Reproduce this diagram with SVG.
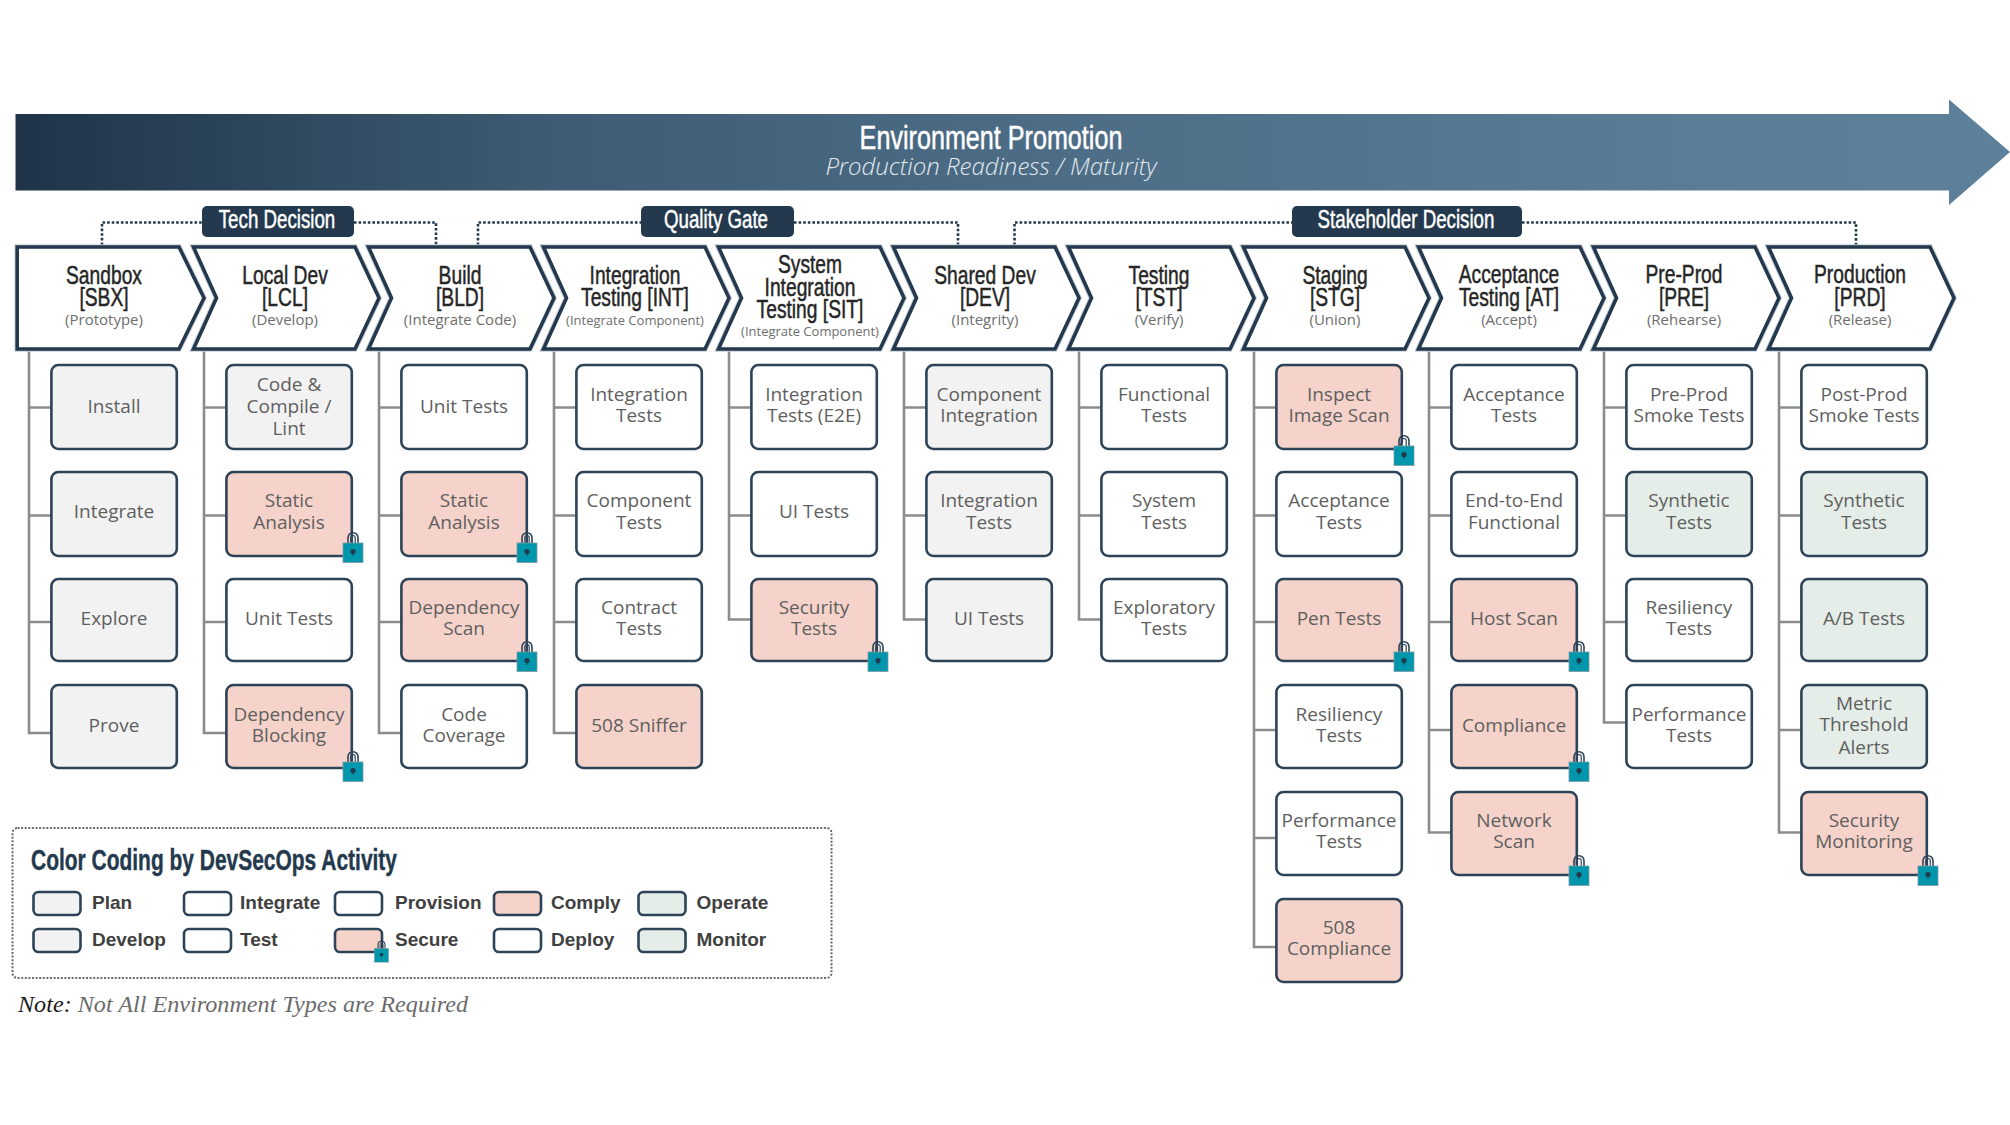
<svg xmlns="http://www.w3.org/2000/svg" xmlns:xlink="http://www.w3.org/1999/xlink" width="2010" height="1125" viewBox="0 0 2010 1125">
<style>
text{font-family:"Open Sans","Liberation Sans",sans-serif}
.n{font-size:19px;fill:#5f5f5f;text-anchor:middle}
.h{font-family:"Liberation Sans Narrow","Liberation Sans",sans-serif;font-size:26px;fill:#262626;text-anchor:middle;stroke:#262626;stroke-width:.5}
.s{font-size:15px;fill:#6e6e6e;text-anchor:middle}
.b{font-family:"Liberation Sans Narrow","Liberation Sans",sans-serif;font-size:26px;fill:#fff;text-anchor:middle;stroke:#fff;stroke-width:.5}
.l{font-family:"Liberation Sans",Arial,sans-serif;font-size:19px;font-weight:700;fill:#404040}
.c{fill:#fff;stroke:#24394d;stroke-width:3.6;stroke-linejoin:miter}
.ch{fill:none;stroke:#c7cfd6;stroke-width:5.6}
.r{stroke:#2d4358;stroke-width:2.6;fill:#fff}
.g{fill:#f2f2f2}.p{fill:#f5d3ca}.m{fill:#e5ede8}
.sp{fill:none;stroke:#8c8c8c;stroke-width:2.6}
.d{fill:none;stroke:#24394d;stroke-width:2.6;stroke-dasharray:2.6 2}
</style>
<defs>
<linearGradient id="ar" x1="0" x2="1" y1="0" y2="0"><stop offset="0" stop-color="#1f3448"/><stop offset=".27" stop-color="#3e5c74"/><stop offset=".5" stop-color="#4c6c85"/><stop offset=".85" stop-color="#5b7d98"/><stop offset="1" stop-color="#5d809b"/></linearGradient>
<g id="lock">
<path d="M-5 -10V-15.300a5 5 0 0 1 10 0V-10" fill="none" stroke="#2d4358" stroke-width="1.6"/>
<path d="M-2.200 -10V-15.300a2.200 2.200 0 0 1 4.400 0V-10" fill="none" stroke="#2d4358" stroke-width="1.200"/>
<rect x="-10" y="-10" width="20" height="19.500" fill="#0097ad" stroke="#7f9aa3" stroke-width=".8"/>
<circle cx="0" cy="-1.500" r="2.600" fill="#22384d"/><path d="M-1 -1L0 4L1 -1Z" fill="#22384d"/>
</g>
<g id="chev"><path class="ch" d="M193.500 247H355L379 298L355 349H193.500L216.500 298Z"/><path class="c" d="M193.500 247H355L379 298L355 349H193.500L216.500 298Z"/></g>
</defs>
<g id="promotion-arrow">
<path d="M15.500 114H1949V99.500L2010 152L1949 205V190.500H15.500Z" fill="url(#ar)"/>
<text transform="translate(991,149) scale(.74,1)" text-anchor="middle" font-size="34" fill="#fff" stroke="#fff" stroke-width=".5" style="font-family:'Liberation Sans Narrow','Liberation Sans',sans-serif">Environment Promotion</text>
<text x="991" y="175" text-anchor="middle" font-size="24" font-weight="300" font-style="italic" fill="#e3e9ee">Production Readiness / Maturity</text>
</g>
<g id="connectors">
<path class="d" d="M102 245V222.500H202M354 222.500H436V245"/>
<path class="d" d="M478 245V222.500H641M794 222.500H958V245"/>
<path class="d" d="M1014.500 245V222.500H1292M1522 222.500H1856V245"/>
<path class="sp" d="M29 350V733H51M29 407.500H51M29 515.500H51M29 622H51"/>
<path class="sp" d="M204 350V733H226M204 407.500H226M204 515.500H226M204 622H226"/>
<path class="sp" d="M379 350V733H401M379 407.500H401M379 515.500H401M379 622H401"/>
<path class="sp" d="M554 350V733H576M554 407.500H576M554 515.500H576M554 622H576"/>
<path class="sp" d="M729 350V619.500H751M729 407.500H751M729 515.500H751"/>
<path class="sp" d="M904 350V619.500H926M904 407.500H926M904 515.500H926"/>
<path class="sp" d="M1079 350V619.500H1101M1079 407.500H1101M1079 515.500H1101"/>
<path class="sp" d="M1254 350V947H1276M1254 407.500H1276M1254 515.500H1276M1254 622H1276M1254 730H1276M1254 838H1276"/>
<path class="sp" d="M1429 350V832.500H1451M1429 407.500H1451M1429 515.500H1451M1429 622H1451M1429 730H1451"/>
<path class="sp" d="M1604 350V722.500H1626M1604 407.500H1626M1604 515.500H1626M1604 622H1626"/>
<path class="sp" d="M1779 350V832.500H1801M1779 407.500H1801M1779 515.500H1801M1779 622H1801M1779 730H1801"/>
</g>
<g id="badge-tech"><rect x="202" y="206" width="152" height="31" rx="5" fill="#24394d"/><text class="b" transform="translate(277,228) scale(.72,1)">Tech Decision</text></g>
<g id="badge-quality"><rect x="641" y="206" width="153" height="31" rx="5" fill="#24394d"/><text class="b" transform="translate(716,228) scale(.72,1)">Quality Gate</text></g>
<g id="badge-stakeholder"><rect x="1292" y="206" width="230" height="31" rx="5" fill="#24394d"/><text class="b" transform="translate(1406,228) scale(.72,1)">Stakeholder Decision</text></g>

<g id="env-sbx"><path class="ch" d="M17.200 247H179L204 298L179 349H17.200Z"/><path class="c" d="M17.200 247H179L204 298L179 349H17.200Z"/><text class="h" transform="translate(104,284) scale(.74,1)"><tspan x="0">Sandbox</tspan><tspan x="0" dy="22">[SBX]</tspan></text><text class="s" x="104" y="325">(Prototype)</text></g>
<g id="env-lcl"><use href="#chev"/><text class="h" transform="translate(285,284) scale(.74,1)"><tspan x="0">Local Dev</tspan><tspan x="0" dy="22">[LCL]</tspan></text><text class="s" x="285" y="325">(Develop)</text></g>
<g id="env-bld"><use href="#chev" x="175"/><text class="h" transform="translate(460,284) scale(.74,1)"><tspan x="0">Build</tspan><tspan x="0" dy="22">[BLD]</tspan></text><text class="s" x="460" y="325">(Integrate Code)</text></g>
<g id="env-int"><use href="#chev" x="350"/><text class="h" transform="translate(635,284) scale(.74,1)"><tspan x="0">Integration</tspan><tspan x="0" dy="22">Testing [INT]</tspan></text><text class="s" x="635" y="325" style="font-size:13px">(Integrate Component)</text></g>
<g id="env-sit"><use href="#chev" x="525"/><text class="h" transform="translate(810,273) scale(.74,1)"><tspan x="0">System</tspan><tspan x="0" dy="23">Integration</tspan><tspan x="0" dy="22">Testing [SIT]</tspan></text><text class="s" x="810" y="336" style="font-size:13px">(Integrate Component)</text></g>
<g id="env-dev"><use href="#chev" x="700"/><text class="h" transform="translate(985,284) scale(.74,1)"><tspan x="0">Shared Dev</tspan><tspan x="0" dy="22">[DEV]</tspan></text><text class="s" x="985" y="325">(Integrity)</text></g>
<g id="env-tst"><use href="#chev" x="875"/><text class="h" transform="translate(1159,284) scale(.74,1)"><tspan x="0">Testing</tspan><tspan x="0" dy="22">[TST]</tspan></text><text class="s" x="1159" y="325">(Verify)</text></g>
<g id="env-stg"><use href="#chev" x="1050"/><text class="h" transform="translate(1335,284) scale(.74,1)"><tspan x="0">Staging</tspan><tspan x="0" dy="22">[STG]</tspan></text><text class="s" x="1335" y="325">(Union)</text></g>
<g id="env-at"><use href="#chev" x="1225"/><text class="h" transform="translate(1509,283) scale(.74,1)"><tspan x="0">Acceptance</tspan><tspan x="0" dy="23">Testing [AT]</tspan></text><text class="s" x="1509" y="325">(Accept)</text></g>
<g id="env-pre"><use href="#chev" x="1400"/><text class="h" transform="translate(1684,283) scale(.74,1)"><tspan x="0">Pre-Prod</tspan><tspan x="0" dy="23">[PRE]</tspan></text><text class="s" x="1684" y="325">(Rehearse)</text></g>
<g id="env-prd"><use href="#chev" x="1575"/><text class="h" transform="translate(1860,283) scale(.74,1)"><tspan x="0">Production</tspan><tspan x="0" dy="23">[PRD]</tspan></text><text class="s" x="1860" y="325">(Release)</text></g>

<g id="sbx-1"><rect class="r g" x="51.400" y="365" width="125.400" height="84" rx="7"/><text class="n" x="114" y="413">Install</text></g>
<g id="sbx-2"><rect class="r g" x="51.400" y="472" width="125.400" height="84" rx="7"/><text class="n" x="114" y="518">Integrate</text></g>
<g id="sbx-3"><rect class="r g" x="51.400" y="579" width="125.400" height="82" rx="7"/><text class="n" x="114" y="625">Explore</text></g>
<g id="sbx-4"><rect class="r g" x="51.400" y="685" width="125.400" height="83" rx="7"/><text class="n" x="114" y="732">Prove</text></g>

<g id="lcl-1"><rect class="r g" x="226.400" y="365" width="125.400" height="84" rx="7"/><text class="n" y="391"><tspan x="289">Code &amp;</tspan><tspan x="289" dy="22">Compile /</tspan><tspan x="289" dy="22">Lint</tspan></text></g>
<g id="lcl-2"><rect class="r p" x="226.400" y="472" width="125.400" height="84" rx="7"/><text class="n" y="507"><tspan x="289">Static</tspan><tspan x="289" dy="22">Analysis</tspan></text><use href="#lock" x="353" y="553"/></g>
<g id="lcl-3"><rect class="r" x="226.400" y="579" width="125.400" height="82" rx="7"/><text class="n" x="289" y="625">Unit Tests</text></g>
<g id="lcl-4"><rect class="r p" x="226.400" y="685" width="125.400" height="83" rx="7"/><text class="n" y="721"><tspan x="289">Dependency</tspan><tspan x="289" dy="21">Blocking</tspan></text><use href="#lock" x="353" y="772"/></g>

<g id="bld-1"><rect class="r" x="401.400" y="365" width="125.400" height="84" rx="7"/><text class="n" x="464" y="413">Unit Tests</text></g>
<g id="bld-2"><rect class="r p" x="401.400" y="472" width="125.400" height="84" rx="7"/><text class="n" y="507"><tspan x="464">Static</tspan><tspan x="464" dy="22">Analysis</tspan></text><use href="#lock" x="527" y="553"/></g>
<g id="bld-3"><rect class="r p" x="401.400" y="579" width="125.400" height="82" rx="7"/><text class="n" y="614"><tspan x="464">Dependency</tspan><tspan x="464" dy="21">Scan</tspan></text><use href="#lock" x="527" y="662"/></g>
<g id="bld-4"><rect class="r" x="401.400" y="685" width="125.400" height="83" rx="7"/><text class="n" y="721"><tspan x="464">Code</tspan><tspan x="464" dy="21">Coverage</tspan></text></g>

<g id="int-1"><rect class="r" x="576.400" y="365" width="125.400" height="84" rx="7"/><text class="n" y="401"><tspan x="639">Integration</tspan><tspan x="639" dy="21">Tests</tspan></text></g>
<g id="int-2"><rect class="r" x="576.400" y="472" width="125.400" height="84" rx="7"/><text class="n" y="507"><tspan x="639">Component</tspan><tspan x="639" dy="22">Tests</tspan></text></g>
<g id="int-3"><rect class="r" x="576.400" y="579" width="125.400" height="82" rx="7"/><text class="n" y="614"><tspan x="639">Contract</tspan><tspan x="639" dy="21">Tests</tspan></text></g>
<g id="int-4"><rect class="r p" x="576.400" y="685" width="125.400" height="83" rx="7"/><text class="n" x="639" y="732">508 Sniffer</text></g>

<g id="sit-1"><rect class="r" x="751.400" y="365" width="125.400" height="84" rx="7"/><text class="n" y="401"><tspan x="814">Integration</tspan><tspan x="814" dy="21">Tests (E2E)</tspan></text></g>
<g id="sit-2"><rect class="r" x="751.400" y="472" width="125.400" height="84" rx="7"/><text class="n" x="814" y="518">UI Tests</text></g>
<g id="sit-3"><rect class="r p" x="751.400" y="579" width="125.400" height="82" rx="7"/><text class="n" y="614"><tspan x="814">Security</tspan><tspan x="814" dy="21">Tests</tspan></text><use href="#lock" x="878" y="662"/></g>

<g id="dev-1"><rect class="r g" x="926.400" y="365" width="125.400" height="84" rx="7"/><text class="n" y="401"><tspan x="989">Component</tspan><tspan x="989" dy="21">Integration</tspan></text></g>
<g id="dev-2"><rect class="r g" x="926.400" y="472" width="125.400" height="84" rx="7"/><text class="n" y="507"><tspan x="989">Integration</tspan><tspan x="989" dy="22">Tests</tspan></text></g>
<g id="dev-3"><rect class="r g" x="926.400" y="579" width="125.400" height="82" rx="7"/><text class="n" x="989" y="625">UI Tests</text></g>

<g id="tst-1"><rect class="r" x="1101.400" y="365" width="125.400" height="84" rx="7"/><text class="n" y="401"><tspan x="1164">Functional</tspan><tspan x="1164" dy="21">Tests</tspan></text></g>
<g id="tst-2"><rect class="r" x="1101.400" y="472" width="125.400" height="84" rx="7"/><text class="n" y="507"><tspan x="1164">System</tspan><tspan x="1164" dy="22">Tests</tspan></text></g>
<g id="tst-3"><rect class="r" x="1101.400" y="579" width="125.400" height="82" rx="7"/><text class="n" y="614"><tspan x="1164">Exploratory</tspan><tspan x="1164" dy="21">Tests</tspan></text></g>

<g id="stg-1"><rect class="r p" x="1276.400" y="365" width="125.400" height="84" rx="7"/><text class="n" y="401"><tspan x="1339">Inspect</tspan><tspan x="1339" dy="21">Image Scan</tspan></text><use href="#lock" x="1404" y="456"/></g>
<g id="stg-2"><rect class="r" x="1276.400" y="472" width="125.400" height="84" rx="7"/><text class="n" y="507"><tspan x="1339">Acceptance</tspan><tspan x="1339" dy="22">Tests</tspan></text></g>
<g id="stg-3"><rect class="r p" x="1276.400" y="579" width="125.400" height="82" rx="7"/><text class="n" x="1339" y="625">Pen Tests</text><use href="#lock" x="1404" y="662"/></g>
<g id="stg-4"><rect class="r" x="1276.400" y="685" width="125.400" height="83" rx="7"/><text class="n" y="721"><tspan x="1339">Resiliency</tspan><tspan x="1339" dy="21">Tests</tspan></text></g>
<g id="stg-5"><rect class="r" x="1276.400" y="792" width="125.400" height="83" rx="7"/><text class="n" y="827"><tspan x="1339">Performance</tspan><tspan x="1339" dy="21">Tests</tspan></text></g>
<g id="stg-6"><rect class="r p" x="1276.400" y="899" width="125.400" height="83" rx="7"/><text class="n" y="934"><tspan x="1339">508</tspan><tspan x="1339" dy="21">Compliance</tspan></text></g>

<g id="at-1"><rect class="r" x="1451.400" y="365" width="125.400" height="84" rx="7"/><text class="n" y="401"><tspan x="1514">Acceptance</tspan><tspan x="1514" dy="21">Tests</tspan></text></g>
<g id="at-2"><rect class="r" x="1451.400" y="472" width="125.400" height="84" rx="7"/><text class="n" y="507"><tspan x="1514">End-to-End</tspan><tspan x="1514" dy="22">Functional</tspan></text></g>
<g id="at-3"><rect class="r p" x="1451.400" y="579" width="125.400" height="82" rx="7"/><text class="n" x="1514" y="625">Host Scan</text><use href="#lock" x="1579" y="662"/></g>
<g id="at-4"><rect class="r p" x="1451.400" y="685" width="125.400" height="83" rx="7"/><text class="n" x="1514" y="732">Compliance</text><use href="#lock" x="1579" y="772"/></g>
<g id="at-5"><rect class="r p" x="1451.400" y="792" width="125.400" height="83" rx="7"/><text class="n" y="827"><tspan x="1514">Network</tspan><tspan x="1514" dy="21">Scan</tspan></text><use href="#lock" x="1579" y="876"/></g>

<g id="pre-1"><rect class="r" x="1626.400" y="365" width="125.400" height="84" rx="7"/><text class="n" y="401"><tspan x="1689">Pre-Prod</tspan><tspan x="1689" dy="21">Smoke Tests</tspan></text></g>
<g id="pre-2"><rect class="r m" x="1626.400" y="472" width="125.400" height="84" rx="7"/><text class="n" y="507"><tspan x="1689">Synthetic</tspan><tspan x="1689" dy="22">Tests</tspan></text></g>
<g id="pre-3"><rect class="r" x="1626.400" y="579" width="125.400" height="82" rx="7"/><text class="n" y="614"><tspan x="1689">Resiliency</tspan><tspan x="1689" dy="21">Tests</tspan></text></g>
<g id="pre-4"><rect class="r" x="1626.400" y="685" width="125.400" height="83" rx="7"/><text class="n" y="721"><tspan x="1689">Performance</tspan><tspan x="1689" dy="21">Tests</tspan></text></g>

<g id="prd-1"><rect class="r" x="1801.400" y="365" width="125.400" height="84" rx="7"/><text class="n" y="401"><tspan x="1864">Post-Prod</tspan><tspan x="1864" dy="21">Smoke Tests</tspan></text></g>
<g id="prd-2"><rect class="r m" x="1801.400" y="472" width="125.400" height="84" rx="7"/><text class="n" y="507"><tspan x="1864">Synthetic</tspan><tspan x="1864" dy="22">Tests</tspan></text></g>
<g id="prd-3"><rect class="r m" x="1801.400" y="579" width="125.400" height="82" rx="7"/><text class="n" x="1864" y="625">A/B Tests</text></g>
<g id="prd-4"><rect class="r m" x="1801.400" y="685" width="125.400" height="83" rx="7"/><text class="n" y="710"><tspan x="1864">Metric</tspan><tspan x="1864" dy="21">Threshold</tspan><tspan x="1864" dy="23">Alerts</tspan></text></g>
<g id="prd-5"><rect class="r p" x="1801.400" y="792" width="125.400" height="83" rx="7"/><text class="n" y="827"><tspan x="1864">Security</tspan><tspan x="1864" dy="21">Monitoring</tspan></text><use href="#lock" x="1928" y="876"/></g>

<g id="legend">
<rect x="12.500" y="828" width="819" height="150" rx="5" fill="none" stroke="#6b6b6b" stroke-width="2" stroke-dasharray="2 1.600"/>
<text x="31" y="870" textLength="366" lengthAdjust="spacingAndGlyphs" font-size="29" font-weight="700" fill="#24394d" stroke="#24394d" stroke-width=".4" style="font-family:'Liberation Sans Narrow','Liberation Sans',sans-serif">Color Coding by DevSecOps Activity</text>
<rect class="r g" x="33.500" y="892" width="47" height="23" rx="5"/><text class="l" x="92" y="909">Plan</text>
<rect class="r" x="184" y="892" width="47" height="23" rx="5"/><text class="l" x="240" y="909">Integrate</text>
<rect class="r" x="335" y="892" width="47" height="23" rx="5"/><text class="l" x="395" y="909">Provision</text>
<rect class="r p" x="494" y="892" width="47" height="23" rx="5"/><text class="l" x="551" y="909">Comply</text>
<rect class="r m" x="638.500" y="892" width="47" height="23" rx="5"/><text class="l" x="696.500" y="909">Operate</text>
<rect class="r g" x="33.500" y="929" width="47" height="23" rx="5"/><text class="l" x="92" y="946">Develop</text>
<rect class="r" x="184" y="929" width="47" height="23" rx="5"/><text class="l" x="240" y="946">Test</text>
<rect class="r p" x="335" y="929" width="47" height="23" rx="5"/><text class="l" x="395" y="946">Secure</text>
<rect class="r" x="494" y="929" width="47" height="23" rx="5"/><text class="l" x="551" y="946">Deploy</text>
<rect class="r m" x="638.500" y="929" width="47" height="23" rx="5"/><text class="l" x="696.500" y="946">Monitor</text>
<use href="#lock" transform="translate(381.500,955.500) scale(.7)"/>
</g>
<text x="18" y="1012" font-size="24" font-style="italic" textLength="450" lengthAdjust="spacingAndGlyphs" style="font-family:'Liberation Serif',serif"><tspan fill="#1a1a1a">Note: </tspan><tspan fill="#6b6b6b">Not All Environment Types are Required</tspan></text>
</svg>
